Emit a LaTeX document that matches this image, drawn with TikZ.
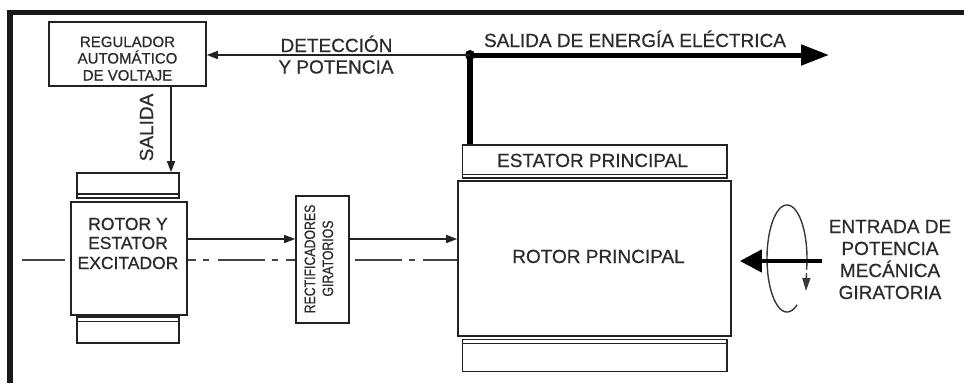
\documentclass[tikz,border=0pt]{standalone}
\usepackage{fontspec}
\setmainfont{Liberation Sans}[FakeBold=0.6]
\usetikzlibrary{arrows.meta}
\definecolor{ink}{HTML}{222222}
\definecolor{txt}{HTML}{2B2B2B}
\newcommand\fbig{\fontsize{19}{23}\selectfont}
\newcommand\fmid{\fontsize{17.5}{20}\selectfont}
\newcommand\fsml{\fontsize{15}{17}\selectfont}
\begin{document}
\begin{tikzpicture}[x=1pt,y=-1pt,
  box/.style={draw=ink, line width=1.7pt, fill=white, inner sep=0pt, rectangle},
  lbl/.style={text=txt, inner sep=0pt, anchor=base},
  arr/.style={draw=ink, line width=1.5pt, -{Triangle[length=11pt,width=8pt]}},
  axisline/.style={draw=ink!85, line width=1.5pt, dash pattern=on 47pt off 7pt on 6pt off 8.5pt},
  heavy/.style={draw=black, line width=5.5pt},
  outarrow/.style={draw=black, line width=5pt, -{Triangle[length=28pt,width=20pt]}},
  inarrow/.style={draw=black, line width=4.5pt, -{Triangle[length=22pt,width=22pt]}},
  rot/.style={draw=ink!90, line width=1.4pt}
]
\useasboundingbox (0,0) rectangle (964,383);
% frame
\draw[line width=5.5pt, black!90] (964,12.5) -- (10,12.5) -- (10,383);

% boxes
\node[box, minimum width=157pt, minimum height=64pt] (reg) at (127.5,54) {};
\node[box, minimum width=102pt, minimum height=25pt] (excTop) at (128,185.5) {};
\node[box, minimum width=102pt, minimum height=26pt] (excBot) at (128,330) {};
\node[box, minimum width=116pt, minimum height=113pt] (exc) at (129,258.5) {};
\node[box, minimum width=53pt, minimum height=127pt] (rect) at (322.5,259.5) {};
\node[box, minimum width=264.5pt, minimum height=33pt] (estator) at (594.75,161.5) {};
\node[box, minimum width=264.5pt, minimum height=32pt] (rotorBot) at (594.75,355.5) {};
\node[box, minimum width=273pt, minimum height=155pt] (rotor) at (594.5,258.5) {};
% inner double lines of the caps
\draw[ink, line width=1.4pt] (excTop.west |- 0,194) -- (excTop.east |- 0,194);
\draw[ink, line width=1.4pt] (excBot.west |- 0,321.5) -- (excBot.east |- 0,321.5);
\draw[ink, line width=1.4pt] (estator.west |- 0,174.5) -- (estator.east |- 0,174.5);
\draw[ink, line width=1.4pt] (rotorBot.west |- 0,343.5) -- (rotorBot.east |- 0,343.5);

% centre line (dash-dot)
\coordinate (axL) at (22,260);
\draw[axisline, dash phase=4pt] (axL) -- (exc.west |- axL);
\draw[axisline, dash phase=38.5pt] (exc.east |- axL) -- (rect.west |- axL);
\draw[axisline, dash phase=63.5pt] (rect.east |- axL) -- (rotor.west |- axL);

% junction and power output
\node[circle, fill=black, inner sep=0pt, minimum size=10pt] (junc) at (470,55) {};
\coordinate (outT) at (829,55);
\draw[heavy] (junc.center) -- (junc.center |- estator.north);
\draw[outarrow] (junc.center) -- (outT);
\draw[arr] (junc.center) -- (junc.center -| reg.east);

% regulator output
\coordinate (salx) at (171,0);
\draw[arr] (reg.south -| salx) -- (excTop.north -| salx);

% signal arrows
\coordinate (sig) at (0,239);
\draw[arr] (exc.east |- sig) -- (rect.west |- sig);
\draw[arr] (rect.east |- sig) -- (rotor.west |- sig);

% mechanical input rotation
\draw[rot] plot[domain=60:372, samples=90, variable=\t] ({787+20*cos(\t)},{258.5+53.5*sin(\t)});
\coordinate (rotS) at (806.5,273);
\coordinate (rotE) at (806,291);
\draw[rot, -{Triangle[length=13pt,width=8pt]}] (rotS) -- (rotE);
\coordinate (inS) at (822,261);
\draw[inarrow, shorten >=8pt] (inS) -- (rotor.east |- inS);

% texts
\node[lbl, font=\fsml] (r1) at (127.5,47) {REGULADOR};
\node[lbl, font=\fsml] (r2) at (127.5,63.5) {AUTOMÁTICO};
\node[lbl, font=\fsml] (r3) at (127.5,80.5) {DE VOLTAJE};
\node[lbl, font=\fbig] (d1) at (336.5,52) {DETECCIÓN};
\node[lbl, font=\fbig] (d2) at (336,73.5) {Y POTENCIA};
\node[lbl, font=\fbig] (s1) at (635,47) {SALIDA DE ENERGÍA ELÉCTRICA};
\node[lbl, font=\fbig] (e1) at (592.5,167) {ESTATOR PRINCIPAL};
\node[lbl, font=\fbig] (p1) at (598.5,263) {ROTOR PRINCIPAL};
\node[lbl, font=\fbig] (m1) at (890,233) {ENTRADA DE};
\node[lbl, font=\fbig] (m2) at (890,255) {POTENCIA};
\node[lbl, font=\fbig] (m3) at (890,277) {MECÁNICA};
\node[lbl, font=\fbig] (m4) at (890,299) {GIRATORIA};
\node[lbl, font=\fmid] (x1) at (128,230) {ROTOR Y};
\node[lbl, font=\fmid] (x2) at (128,249) {ESTATOR};
\node[lbl, font=\fmid] (x3) at (128,269) {EXCITADOR};
\node[lbl, font=\fbig, rotate=90] (sal) at (153,127.5) {SALIDA};
\node[lbl, font=\fsml, rotate=90] (g1) at (315,259) {\scalebox{0.82}[1]{RECTIFICADORES}};
\node[lbl, font=\fsml, rotate=90] (g2) at (333,258.5) {\scalebox{0.82}[1]{GIRATORIOS}};
\end{tikzpicture}
\end{document}
